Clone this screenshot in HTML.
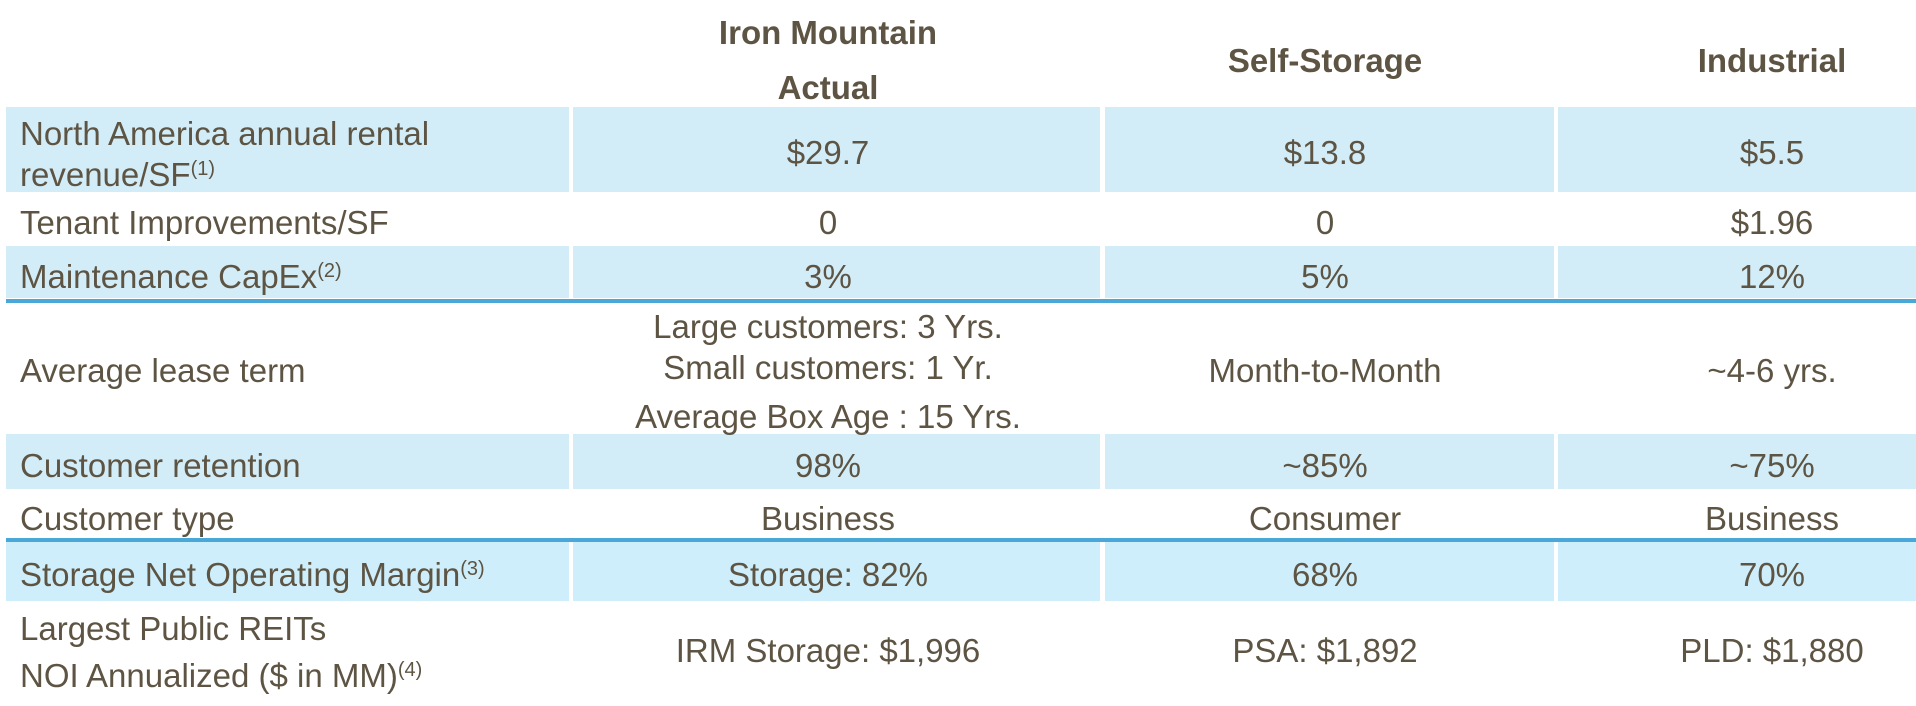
<!DOCTYPE html>
<html><head><meta charset="utf-8"><style>
body{margin:0;width:1916px;height:706px;background:#fff;overflow:hidden;position:relative;font-family:"Liberation Sans",Arial,sans-serif;color:#5d5443}
.b{position:absolute;background:#d3edf8}
.t{position:absolute;height:40px;line-height:40px;font-size:33px;white-space:nowrap}
.l{left:20px}
.c{transform:translateX(-50%)}
.h{font-weight:bold;font-size:33px}
.line{position:absolute;left:6px;width:1910px;height:4px;background:#4aa8d8}
sup{font-size:20px;vertical-align:11px;line-height:0}
</style></head><body>
<div class="t c h" style="left:828px;top:13px">Iron Mountain</div>
<div class="t c h" style="left:828px;top:68px">Actual</div>
<div class="t c h" style="left:1325px;top:41px">Self-Storage</div>
<div class="t c h" style="left:1772px;top:41px">Industrial</div>

<div class="b" style="left:6px;top:107px;width:563px;height:85px"></div>
<div class="b" style="left:573px;top:107px;width:527px;height:85px"></div>
<div class="b" style="left:1105px;top:107px;width:449px;height:85px"></div>
<div class="b" style="left:1558px;top:107px;width:358px;height:85px"></div>

<div class="b" style="left:6px;top:246px;width:563px;height:52px"></div>
<div class="b" style="left:573px;top:246px;width:527px;height:52px"></div>
<div class="b" style="left:1105px;top:246px;width:449px;height:52px"></div>
<div class="b" style="left:1558px;top:246px;width:358px;height:52px"></div>
<div class="line" style="top:299px"></div>

<div class="b" style="left:6px;top:434px;width:563px;height:55px"></div>
<div class="b" style="left:573px;top:434px;width:527px;height:55px"></div>
<div class="b" style="left:1105px;top:434px;width:449px;height:55px"></div>
<div class="b" style="left:1558px;top:434px;width:358px;height:55px"></div>
<div class="line" style="top:538px"></div>

<div class="b" style="left:6px;top:542px;width:563px;height:59px;background:#cdeefa"></div>
<div class="b" style="left:573px;top:542px;width:527px;height:59px;background:#cdeefa"></div>
<div class="b" style="left:1105px;top:542px;width:449px;height:59px;background:#cdeefa"></div>
<div class="b" style="left:1558px;top:542px;width:358px;height:59px;background:#cdeefa"></div>

<div class="t l" style="top:114px">North America annual rental</div>
<div class="t l" style="top:155px">revenue/SF<sup>(1)</sup></div>
<div class="t c" style="left:828px;top:133px">$29.7</div>
<div class="t c" style="left:1325px;top:133px">$13.8</div>
<div class="t c" style="left:1772px;top:133px">$5.5</div>

<div class="t l" style="top:203px">Tenant Improvements/SF</div>
<div class="t c" style="left:828px;top:203px">0</div>
<div class="t c" style="left:1325px;top:203px">0</div>
<div class="t c" style="left:1772px;top:203px">$1.96</div>

<div class="t l" style="top:257px">Maintenance CapEx<sup>(2)</sup></div>
<div class="t c" style="left:828px;top:257px">3%</div>
<div class="t c" style="left:1325px;top:257px">5%</div>
<div class="t c" style="left:1772px;top:257px">12%</div>

<div class="t l" style="top:351px">Average lease term</div>
<div class="t c" style="left:828px;top:307px">Large customers: 3 Yrs.</div>
<div class="t c" style="left:828px;top:348px">Small customers: 1 Yr.</div>
<div class="t c" style="left:828px;top:397px">Average Box Age : 15 Yrs.</div>
<div class="t c" style="left:1325px;top:351px">Month-to-Month</div>
<div class="t c" style="left:1772px;top:351px">~4-6 yrs.</div>

<div class="t l" style="top:446px">Customer retention</div>
<div class="t c" style="left:828px;top:446px">98%</div>
<div class="t c" style="left:1325px;top:446px">~85%</div>
<div class="t c" style="left:1772px;top:446px">~75%</div>

<div class="t l" style="top:499px">Customer type</div>
<div class="t c" style="left:828px;top:499px">Business</div>
<div class="t c" style="left:1325px;top:499px">Consumer</div>
<div class="t c" style="left:1772px;top:499px">Business</div>

<div class="t l" style="top:555px">Storage Net Operating Margin<sup>(3)</sup></div>
<div class="t c" style="left:828px;top:555px">Storage: 82%</div>
<div class="t c" style="left:1325px;top:555px">68%</div>
<div class="t c" style="left:1772px;top:555px">70%</div>

<div class="t l" style="top:609px">Largest Public REITs</div>
<div class="t l" style="top:656px">NOI Annualized ($ in MM)<sup>(4)</sup></div>
<div class="t c" style="left:828px;top:631px">IRM Storage: $1,996</div>
<div class="t c" style="left:1325px;top:631px">PSA: $1,892</div>
<div class="t c" style="left:1772px;top:631px">PLD: $1,880</div>
</body></html>
